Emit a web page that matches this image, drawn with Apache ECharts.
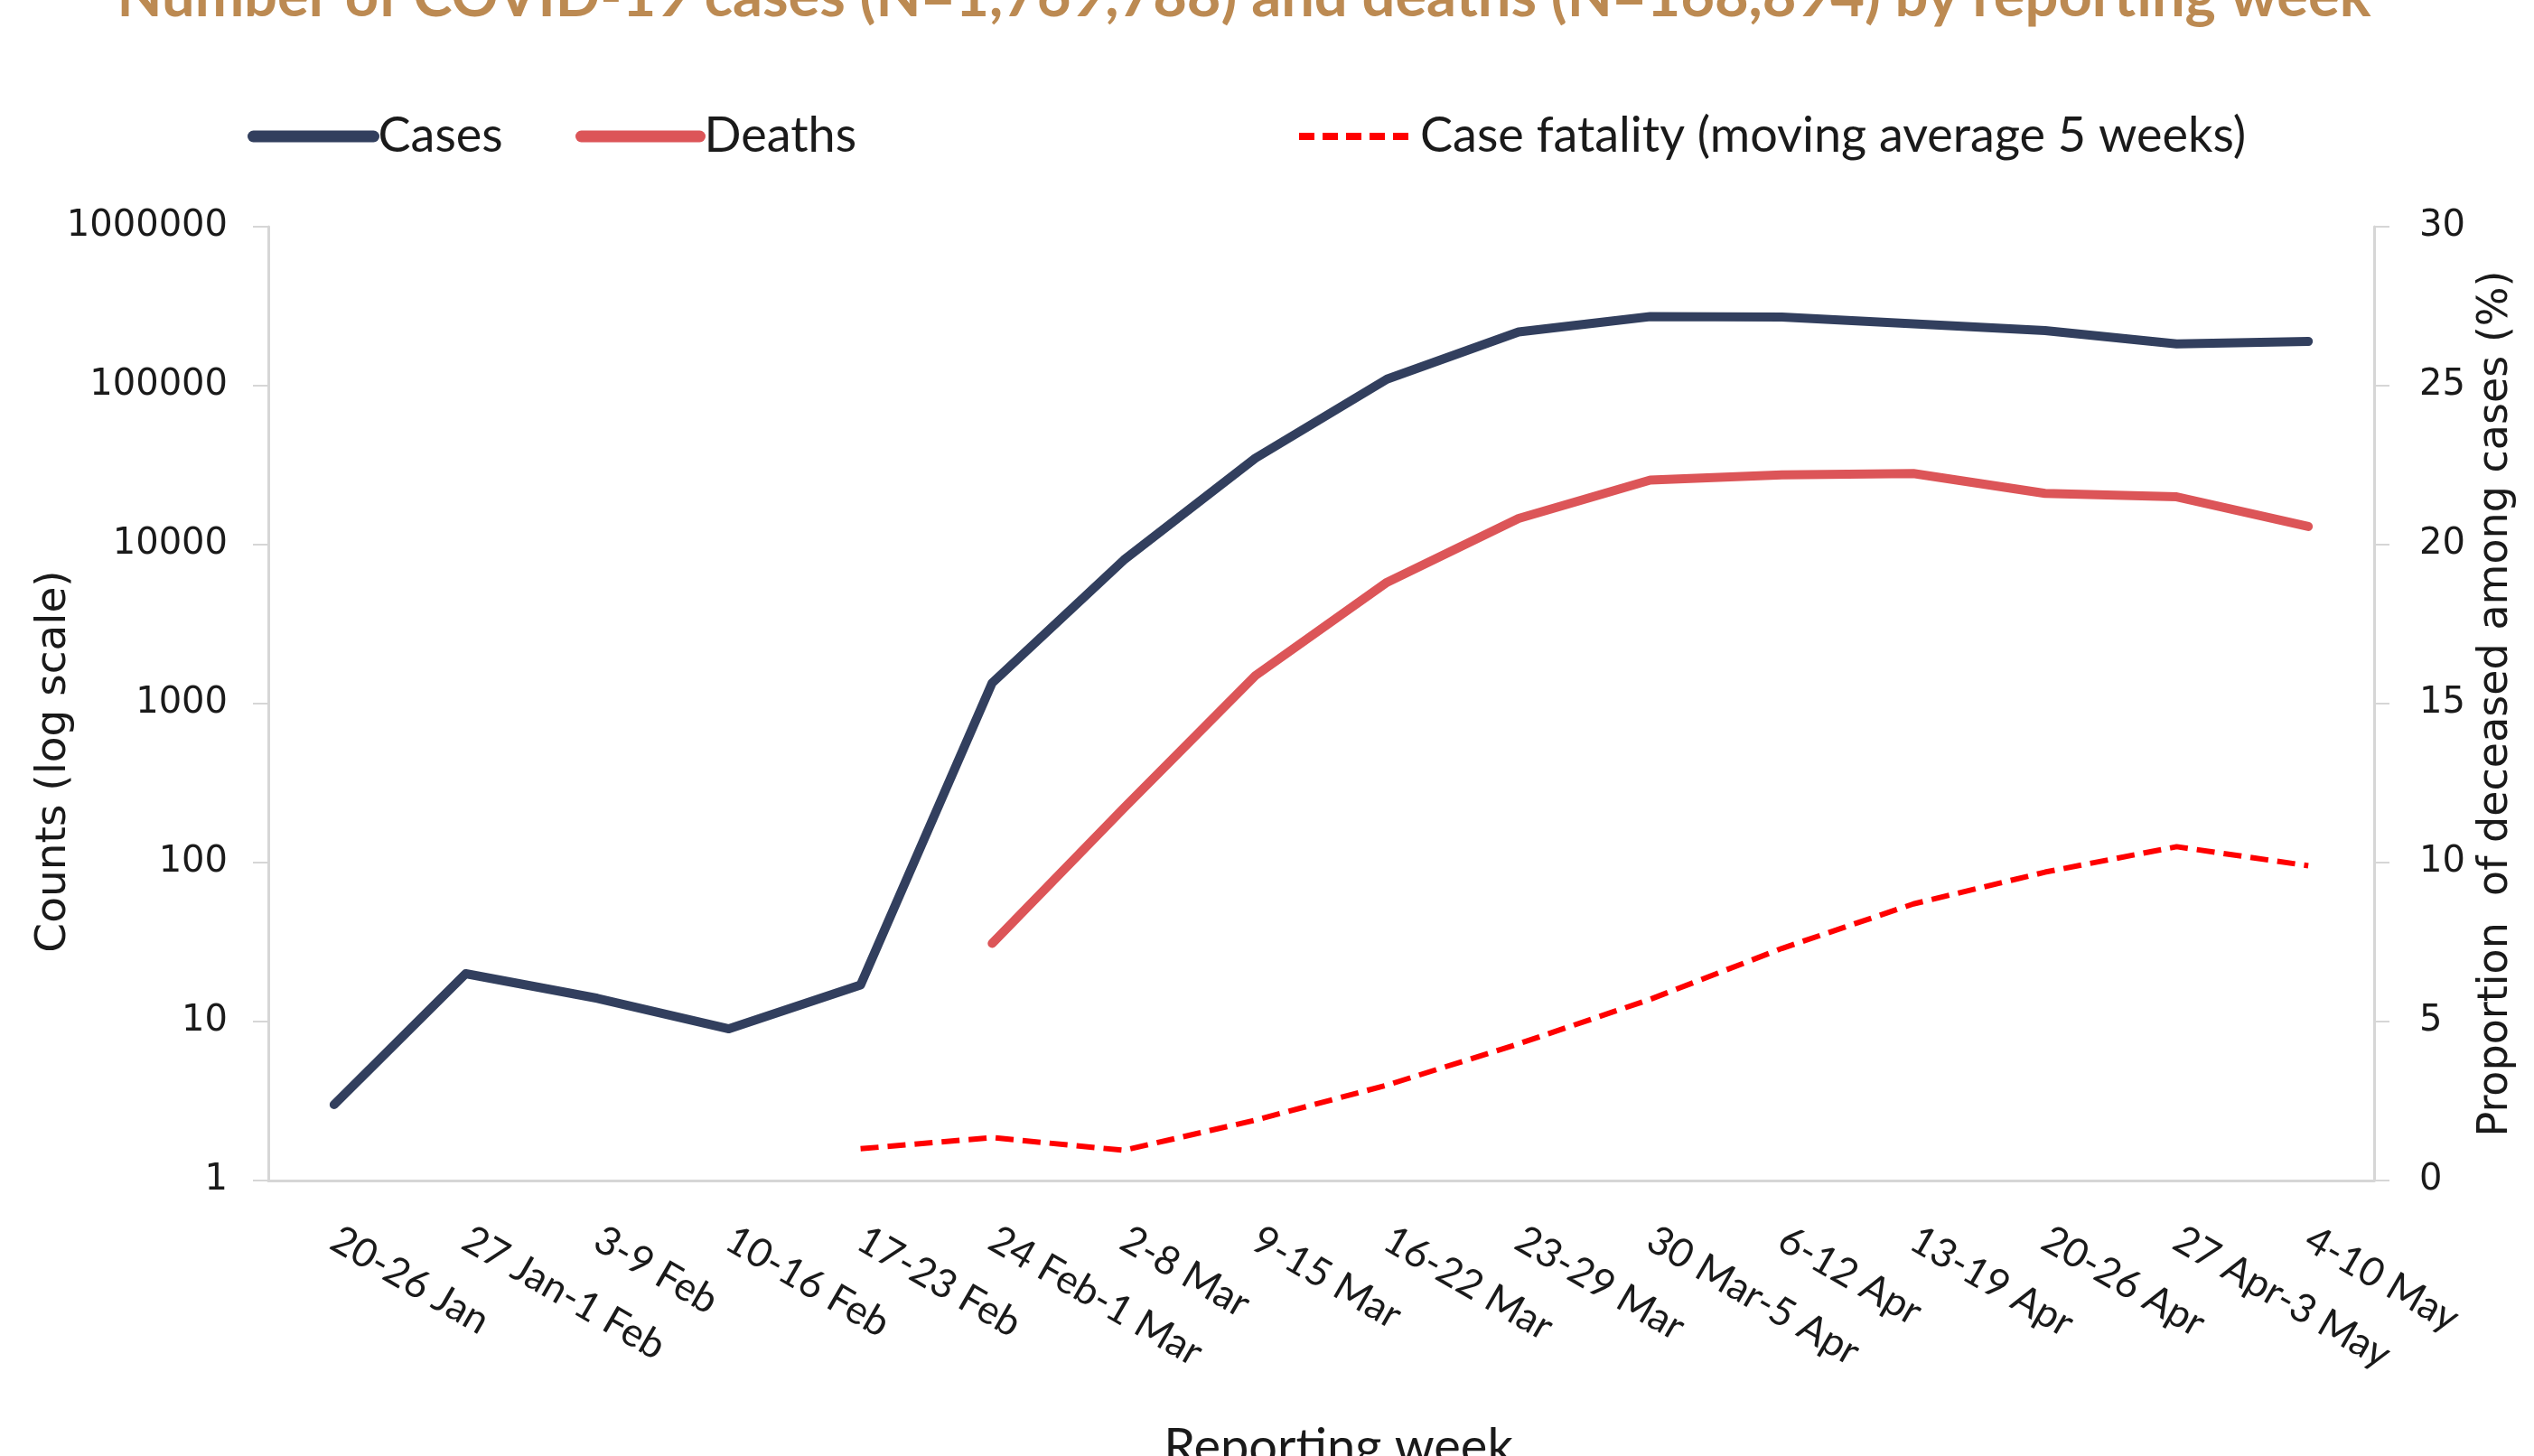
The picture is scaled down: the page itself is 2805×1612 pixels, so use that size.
<!DOCTYPE html>
<html>
<head>
<meta charset="utf-8">
<title>COVID-19 cases and deaths by reporting week</title>
<script src="https://cdn.jsdelivr.net/npm/echarts@6/dist/echarts.min.js"></script>
<style>
  html, body { margin: 0; padding: 0; background: #fff; }
  #chart { width: 2805px; height: 1612px; }
</style>
</head>
<body>
<div id="chart"></div>
<script>
// reporting weeks
const weeks = [
  '20-26 Jan', '27 Jan-1 Feb', '3-9 Feb', '10-16 Feb', '17-23 Feb',
  '24 Feb-1 Mar', '2-8 Mar', '9-15 Mar', '16-22 Mar', '23-29 Mar',
  '30 Mar-5 Apr', '6-12 Apr', '13-19 Apr', '20-26 Apr', '27 Apr-3 May', '4-10 May'
];

// weekly counts
const cases = [3, 20, 14, 9, 17, 1350, 8000, 35000, 110000, 218000,
  272000, 270000, 245000, 222000, 183000, 190000];
const deaths = [null, null, null, null, null, 31, 220, 1500, 5800, 14600,
  25500, 27500, 28000, 21000, 20000, 13000];

// case fatality in %, moving average 5 weeks
const fatality = [null, null, null, null, 1.0, 1.35, 0.95, 1.9, 3.0, 4.3,
  5.7, 7.3, 8.7, 9.7, 10.5, 9.9];

const textColor = '#1a1a1a';
const gridColor = '#d6d6d6';

const myChart = echarts.init(document.getElementById('chart'));

// one legend per series, each sits on its own spot like in the original
const legendBase = {
  top: 119,
  itemHeight: 24,
  itemGap: 0,
  itemStyle: { opacity: 0 },
  textStyle: { color: textColor, fontFamily: 'Lato', fontSize: 54 }
};

const option = {
  backgroundColor: '#fff',
  animation: false,
  title: {
    text: 'Number of COVID-19 cases (N=1,769,788) and deaths (N=168,894) by reporting week',
    left: 1372,
    textAlign: 'center',
    top: -40,
    textStyle: {
      color: '#bc8a52',
      fontFamily: 'Lato',
      fontWeight: 'bold',
      fontSize: 65
    }
  },
  legend: [
    Object.assign({}, legendBase, {
      data: ['Cases'],
      left: 269,
      itemWidth: 133,
      lineStyle: { width: 13 }
    }),
    Object.assign({}, legendBase, {
      data: ['Deaths'],
      left: 632,
      itemWidth: 131,
      lineStyle: { width: 13 }
    }),
    Object.assign({}, legendBase, {
      data: ['Case fatality (moving average 5 weeks)'],
      left: 1429,
      itemWidth: 129,
      lineStyle: { width: 8, type: [17, 9] }
    })
  ],
  grid: {
    left: 297,
    right: 177,
    top: 251,
    height: 1056,
    outerBoundsMode: 'none'
  },
  xAxis: {
    type: 'category',
    data: weeks,
    boundaryGap: true,
    name: 'Reporting week',
    nameLocation: 'middle',
    nameGap: 268,
    nameTextStyle: { color: textColor, fontFamily: 'Lato', fontSize: 56, padding: [0, 0, 0, 38] },
    axisLine: { lineStyle: { color: gridColor, width: 3 } },
    axisTick: { length: 12, lineStyle: { color: gridColor, width: 2 } },
    axisLabel: {
      interval: 0,
      rotate: -30,
      margin: 62,
      color: textColor,
      fontFamily: 'Lato',
      fontSize: 44
    }
  },
  yAxis: [
    {
      type: 'log',
      logBase: 10,
      min: 1,
      max: 1000000,
      name: 'Counts (log scale)',
      nameLocation: 'middle',
      nameGap: 214,
      nameMoveOverlap: false,
      nameTextStyle: { color: textColor, fontFamily: 'DejaVu Sans', fontSize: 47, padding: [0, 128, 0, 0] },
      splitLine: { show: false },
      minorTick: { show: false },
      axisLine: { show: true, lineStyle: { color: gridColor, width: 3 } },
      axisTick: { show: true, length: 17, lineStyle: { color: gridColor, width: 2 } },
      axisLabel: {
        margin: 45,
        color: textColor,
        fontFamily: 'DejaVu Sans',
        fontSize: 40,
        formatter: v => String(Math.round(v))
      }
    },
    {
      type: 'value',
      position: 'right',
      min: 0,
      max: 30,
      interval: 5,
      name: 'Proportion  of deceased among cases (%)',
      nameLocation: 'middle',
      nameGap: 112,
      nameTextStyle: { color: textColor, fontFamily: 'DejaVu Sans', fontSize: 46 },
      splitLine: { show: false },
      axisLine: { show: true, lineStyle: { color: gridColor, width: 3 } },
      axisTick: { show: true, length: 17, lineStyle: { color: gridColor, width: 2 } },
      axisLabel: {
        margin: 50,
        color: textColor,
        fontFamily: 'DejaVu Sans',
        fontSize: 40
      }
    }
  ],
  series: [
    {
      name: 'Cases',
      type: 'line',
      yAxisIndex: 0,
      data: cases,
      symbol: 'none',
      color: '#323f5e',
      lineStyle: { width: 10, color: '#323f5e', cap: 'round', join: 'round' }
    },
    {
      name: 'Deaths',
      type: 'line',
      yAxisIndex: 0,
      data: deaths,
      symbol: 'none',
      color: '#dc5558',
      lineStyle: { width: 10, color: '#dc5558', cap: 'round', join: 'round' }
    },
    {
      name: 'Case fatality (moving average 5 weeks)',
      type: 'line',
      yAxisIndex: 1,
      data: fatality,
      symbol: 'none',
      color: '#ff0000',
      lineStyle: { width: 6, color: '#ff0000', type: [20, 10] }
    }
  ]
};

myChart.setOption(option);
</script>
</body>
</html>
